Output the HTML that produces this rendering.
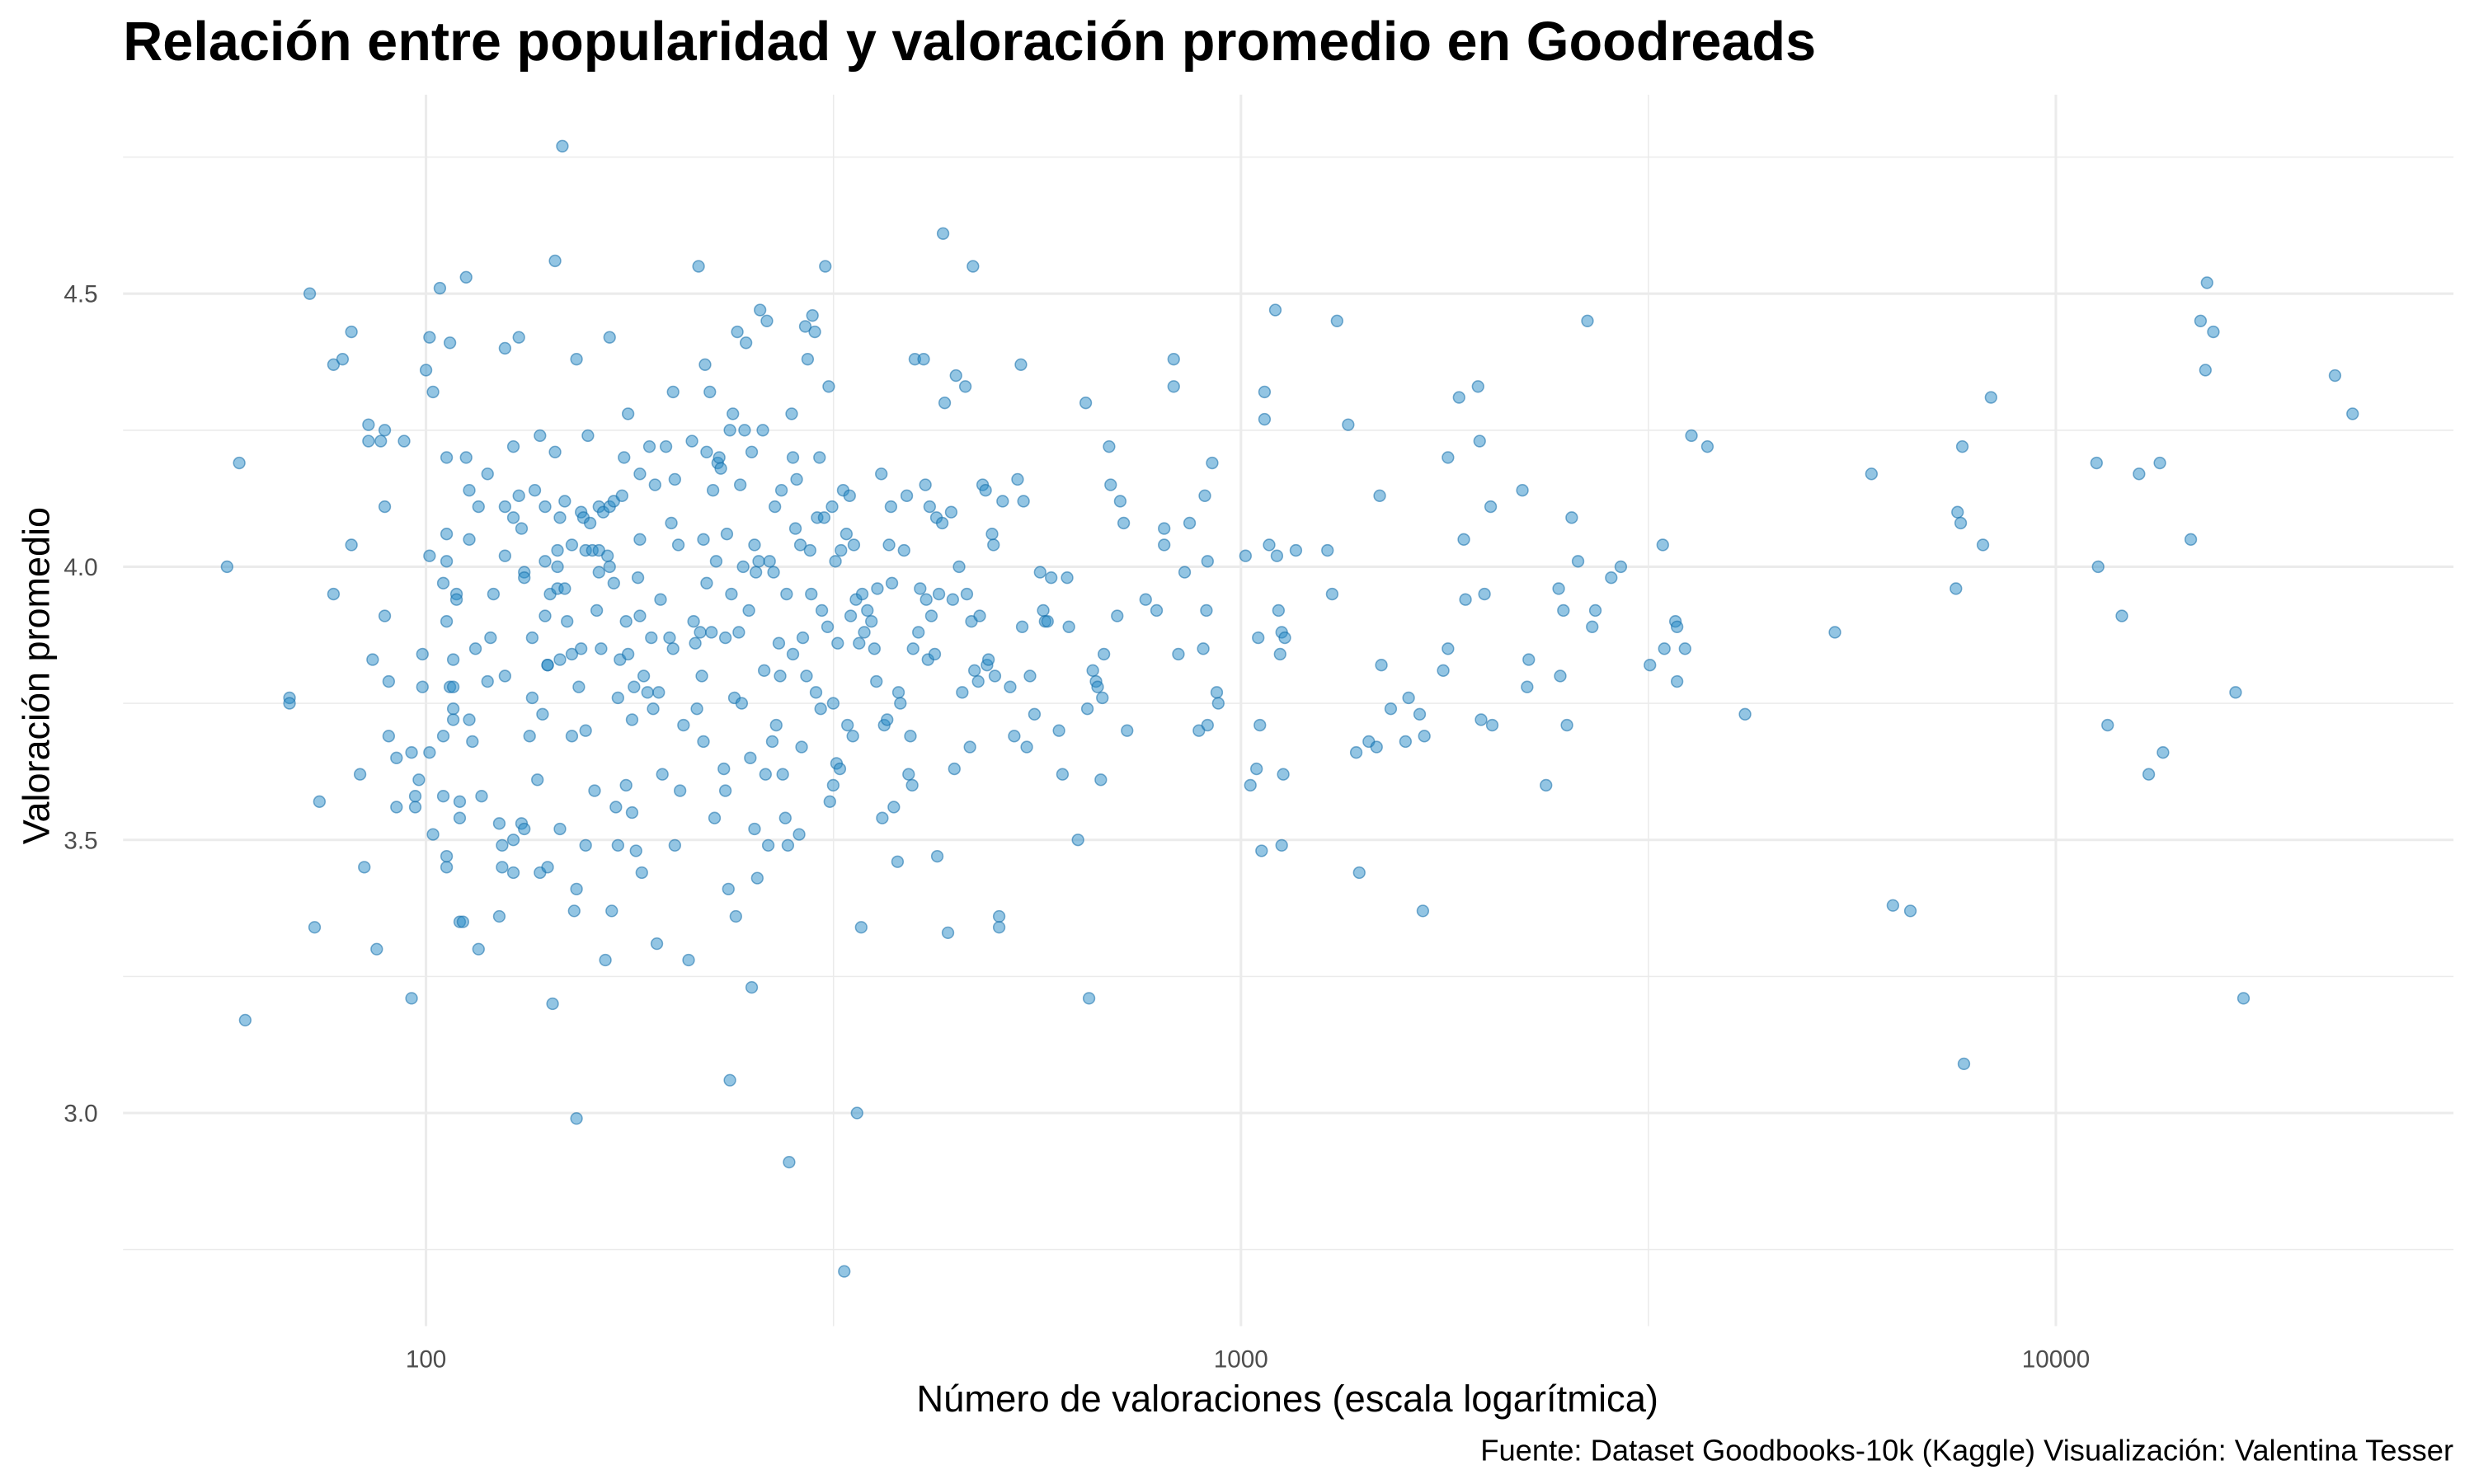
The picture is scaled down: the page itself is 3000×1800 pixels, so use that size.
<!DOCTYPE html>
<html><head><meta charset="utf-8"><style>
html,body{margin:0;padding:0;background:#fff;}
svg{display:block;font-family:"Liberation Sans",Arial,sans-serif;}
</style></head><body>
<svg id="chart" width="3000" height="1800" viewBox="0 0 1568 940" preserveAspectRatio="none" xmlns="http://www.w3.org/2000/svg">
<rect width="1568" height="940" fill="#fff"/>
<text x="78" y="38" font-size="34.8" font-weight="bold" fill="#000">Relación entre popularidad y valoración promedio en Goodreads</text>
<g id="grid"></g>
<g id="points"></g>
<g id="axes"></g>
<text x="816" y="894" font-size="23.7" text-anchor="middle" fill="#000">Número de valoraciones (escala logarítmica)</text>
<text transform="translate(31,428) rotate(-90)" font-size="23.5" text-anchor="middle" fill="#000">Valoración promedio</text>
<text x="1555" y="925" font-size="19" text-anchor="end" fill="#000">Fuente: Dataset Goodbooks-10k (Kaggle) Visualización: Valentina Tesser</text>
</svg>
<script>
const xTickValues=[100,1000,10000];
const xTickLabels=["100","1000","10000"];
const yTickValues=[3.0,3.5,4.0,4.5];
const yTickLabels=["3.0","3.5","4.0","4.5"];
const counts=[57,59,60,68,68,72,73,74,77,77,79,81,81,83,84,85,85,86,87,88,89,89,89,90,90,92,92,94,96,96,97,97,98,99,99,
100,101,102,101,102,101,104,105,105,105,106,106,106,106,106,106,107,107,108,108,108,108,109,109,110,110,110,111,112,112,113,113,113,114,115,116,116,117,119,119,120,121,123,123,124,124,125,125,125,125,128,128,128,128,130,130,131,131,132,132,132,134,135,135,136,137,138,138,139,140,140,140,141,141,141,142,143,144,144,145,145,145,146,146,146,
147,148,148,149,151,151,151,152,153,153,153,154,155,155,156,157,157,157,158,159,160,161,162,163,163,163,164,165,166,167,168,168,168,169,170,170,171,172,172,173,174,175,176,176,177,177,179,179,180,181,182,183,183,183,184,185,187,188,189,190,191,192,193,194,195,197,199,200,201,201,202,202,204,205,207,210,212,213,214,215,216,217,218,219,219,220,221,221,223,224,225,226,227,228,229,230,232,233,233,234,235,236,236,237,238,239,240,241,242,243,244,245,246,247,249,250,251,251,253,253,254,255,256,257,259,260,261,262,263,264,266,267,268,269,271,272,273,274,276,277,278,279,281,282,282,284,285,287,288,289,290,292,293,294,296,297,298,300,301,302,304,305,306,308,309,311,312,313,315,316,316,318,319,320,322,323,325,326,328,329,331,332,334,335,337,338,340,
342,343,345,348,352,355,357,358,362,363,365,368,370,372,373,375,379,380,382,386,389,391,393,395,396,398,402,404,408,410,411,413,415,417,421,423,424,426,430,431,433,437,441,443,445,447,451,455,459,461,465,467,469,471,476,478,482,486,488,490,495,497,499,505,505,510,521,527,532,537,539,541,546,551,558,567,572,575,579,585,598,604,612,615,631,645,648,651,658,664,667,673,676,679,689,692,705,711,718,725,764,788,805,805,827,827,838,853,865,888,899,903,907,910,910,922,934,938,
1013,1027,1045,1055,1060,1050,1069,1069,1083,1102,1107,1112,1117,1122,1122,1127,1132,1168,1277,1294,1312,1354,1385,1397,1435,1467,1480,1487,1527,1592,1606,1657,1679,1672,1771,1795,1795,1852,1877,1886,1954,1963,1971,1990,2025,2034,2215,2245,2255,2368,2454,2465,2487,2512,2546,2592,2662,2698,2722,2847,2925,3176,3293,3308,3413,3429,3429,3507,3571,3736,4155,5356,5939,6310,6629,7540,7574,7642,7677,7712,8138,8325,11218,11268,11574,12049,12649,13000,13415,13535,14640,15050,15258,15328,15604,16616,16992,22004,23125];
const ratings=[4.00,4.19,3.17,3.76,3.75,4.50,3.34,3.57,4.37,3.95,4.38,4.43,4.04,3.62,3.45,4.26,4.23,3.83,3.30,4.23,4.25,4.11,3.91,3.79,3.69,3.56,3.65,4.23,3.21,3.66,3.56,3.58,3.61,3.84,3.78,
4.36,4.42,4.32,4.02,3.51,3.66,4.51,3.58,3.69,3.97,4.20,4.06,4.01,3.45,3.47,3.90,4.41,3.78,3.78,3.74,3.83,3.72,3.95,3.94,3.57,3.54,3.35,3.35,4.53,4.20,4.14,4.05,3.72,3.68,3.85,4.11,3.30,3.58,4.17,3.79,3.87,3.95,3.36,3.53,3.45,3.49,4.40,4.11,4.02,3.80,4.22,4.09,3.44,3.50,4.42,4.13,4.07,3.53,3.99,3.98,3.52,3.69,3.76,3.87,4.14,3.61,3.44,4.24,3.73,4.11,4.01,3.91,3.82,3.82,3.45,3.95,3.20,4.56,4.21,4.03,4.00,3.96,3.83,3.52,4.09,
4.77,4.12,3.96,3.90,3.84,4.04,3.69,3.37,2.99,3.41,4.38,3.78,4.10,3.85,4.09,4.03,3.70,3.49,4.24,4.08,4.03,3.59,3.92,4.11,4.03,3.99,3.85,4.10,3.28,4.02,4.11,4.00,4.42,3.37,3.97,4.12,3.56,3.49,3.76,3.83,4.13,4.20,3.60,3.90,4.28,3.84,3.55,3.72,3.78,3.48,3.98,4.17,3.91,4.05,3.44,3.80,3.77,4.22,3.87,3.74,4.15,3.31,3.77,3.94,3.62,4.22,3.87,4.08,3.85,4.32,4.16,3.49,4.04,3.59,3.71,3.28,4.23,3.90,3.86,3.74,4.55,3.88,3.80,3.68,4.05,4.37,4.21,3.97,4.32,3.88,4.14,3.54,4.01,4.19,4.20,4.18,3.63,3.87,3.59,4.06,3.41,4.25,3.06,3.95,4.28,3.76,3.36,4.43,3.88,4.15,3.75,4.00,4.25,4.41,3.92,3.65,4.21,3.23,4.04,3.52,3.99,3.43,4.01,4.47,4.25,3.81,3.62,4.45,3.49,4.01,3.68,3.99,4.11,3.71,3.86,3.80,4.14,3.62,3.54,3.95,3.49,2.91,4.28,4.20,3.84,4.07,4.16,3.51,4.04,3.67,3.87,4.44,3.80,4.38,4.03,3.95,4.46,4.43,3.77,4.09,4.20,3.74,3.92,4.09,4.55,3.89,4.33,3.57,4.11,3.60,3.75,4.01,3.64,3.86,3.63,4.03,4.14,2.71,4.06,3.71,4.13,3.91,3.69,4.04,3.94,3.00,3.86,
3.34,3.95,3.88,3.92,3.90,3.85,3.79,3.96,4.17,3.54,3.71,3.72,4.04,4.11,3.97,3.56,3.46,3.77,3.75,4.03,4.13,3.62,3.69,3.60,3.85,4.38,3.88,3.96,4.38,4.15,3.94,3.83,4.11,3.91,3.84,4.09,3.47,3.95,4.08,4.61,4.30,3.33,4.10,3.94,3.63,4.35,4.00,3.77,4.33,3.95,3.67,3.90,4.55,3.81,3.79,3.91,4.15,4.14,3.82,3.83,4.06,4.04,3.80,3.36,3.34,4.12,3.78,3.69,4.16,4.37,3.89,4.12,3.67,3.80,3.73,3.99,3.92,3.90,3.90,3.98,3.70,3.62,3.98,3.89,3.50,4.30,3.74,3.21,3.81,3.79,3.78,3.61,3.76,3.84,4.22,4.15,3.91,4.12,4.08,3.70,3.94,3.92,4.07,4.04,4.38,4.33,3.84,3.99,4.08,3.70,3.85,4.13,3.92,3.71,4.01,4.19,3.77,3.75,
4.02,3.60,3.63,3.71,3.48,3.87,4.32,4.27,4.04,4.47,4.02,3.92,3.84,3.88,3.49,3.62,3.87,4.03,4.03,3.95,4.45,4.26,3.66,3.44,3.68,3.67,4.13,3.82,3.74,3.68,3.76,3.73,3.69,3.37,3.81,3.85,4.20,4.31,4.05,3.94,4.33,4.23,3.72,3.95,4.11,3.71,4.14,3.78,3.83,3.60,3.96,3.80,3.92,3.71,4.09,4.01,4.45,3.89,3.92,3.98,4.00,3.82,4.04,3.85,3.90,3.89,3.79,3.85,4.24,4.22,3.73,3.88,4.17,3.38,3.37,3.96,4.10,4.08,4.22,3.09,4.04,4.31,4.19,4.00,3.71,3.91,4.17,3.62,4.19,3.66,4.05,4.45,4.36,4.52,4.43,3.77,3.21,4.35,4.28];

const NS="http://www.w3.org/2000/svg";
const PX0=78,PX1=1555,PY0=60,PY1=840;
function xs(c){return 270+516.5*(Math.log10(c)-2);}
function ys(r){return 359-(r-4)*346;}
const grid=document.getElementById('grid');
const axes=document.getElementById('axes');
const pts=document.getElementById('points');
function line(x1,y1,x2,y2,w,name){
  const l=document.createElementNS(NS,'line');
  l.setAttribute('x1',x1);l.setAttribute('y1',y1);l.setAttribute('x2',x2);l.setAttribute('y2',y2);
  l.setAttribute('stroke','#ebebeb');l.setAttribute('stroke-width',w);
  
  
  grid.appendChild(l);
}
[2.75,3.25,3.75,4.25,4.75].forEach(v=>{const y=ys(v);if(y>PY0&&y<PY1)line(PX0,y,PX1,y,0.8,'minor-gridline-y');});
[1.5,2.5,3.5,4.5].forEach(e=>{const x=xs(Math.pow(10,e));if(x>PX0&&x<PX1)line(x,PY0,x,PY1,0.8,'minor-gridline-x');});
yTickValues.forEach(v=>line(PX0,ys(v),PX1,ys(v),1.6,'major-gridline-y'));
xTickValues.forEach(v=>line(xs(v),PY0,xs(v),PY1,1.6,'major-gridline-x'));
yTickValues.forEach((v,i)=>{
  const t=document.createElementNS(NS,'text');
  t.setAttribute('x',62);t.setAttribute('y',ys(v)+5.5);t.setAttribute('text-anchor','end');
  t.setAttribute('font-size','15.5');t.setAttribute('fill','#4d4d4d');
  t.textContent=yTickLabels[i];
  
  
  axes.appendChild(t);
});
xTickValues.forEach((v,i)=>{
  const t=document.createElementNS(NS,'text');
  t.setAttribute('x',xs(v));t.setAttribute('y',866);t.setAttribute('text-anchor','middle');
  t.setAttribute('font-size','15.5');t.setAttribute('fill','#4d4d4d');
  t.textContent=xTickLabels[i];
  
  
  axes.appendChild(t);
});
const n=Math.min(counts.length,ratings.length);
for(let i=0;i<n;i++){
  const c=document.createElementNS(NS,'circle');
  c.setAttribute('cx',xs(counts[i]));c.setAttribute('cy',ys(ratings[i]));c.setAttribute('r',3.6);
  c.setAttribute('fill','rgba(40,140,200,0.5)');c.setAttribute('stroke','rgba(20,110,170,0.55)');c.setAttribute('stroke-width','0.8');
  
  
  pts.appendChild(c);
}
</script>
</body></html>
